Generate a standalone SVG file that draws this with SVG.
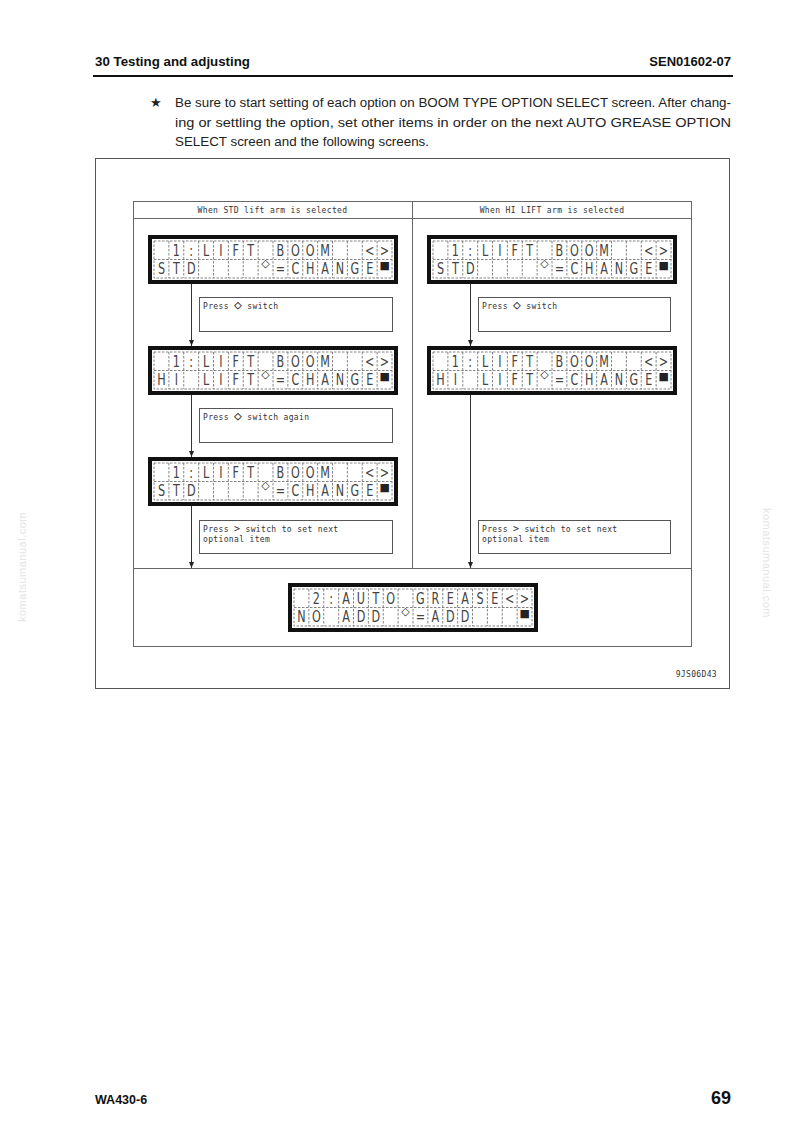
<svg xmlns="http://www.w3.org/2000/svg" width="794" height="1124" viewBox="0 0 794 1124">
<style>
.hd{font-family:"Liberation Sans",Arial,sans-serif;font-weight:bold;fill:#111}
.bt{font-family:"Liberation Sans",Arial,sans-serif;font-size:12.5px;fill:#222}
.wm{font-family:"Liberation Sans",Arial,sans-serif;font-size:11px;fill:#e4e4e4;letter-spacing:0.5px}
.frame{fill:none;stroke:#555;stroke-width:1}
.tb{fill:none;stroke:#666;stroke-width:1}
.box{fill:#fff;stroke:#555;stroke-width:1}
.lbl{font-family:"DejaVu Sans Mono",monospace;font-size:8px;fill:#333;letter-spacing:0.35px}
.lcdo{fill:#fff;stroke:#111;stroke-width:4}
.grid{fill:none;stroke:#666;stroke-width:0.8;stroke-dasharray:2.5 1.5}
.ch{font-family:"DejaVu Sans",sans-serif;font-weight:normal;font-size:16px;fill:#444;text-anchor:middle}
.sym{font-family:"DejaVu Sans",sans-serif;font-size:11px;fill:#222;text-anchor:middle}
.con{fill:none;stroke:#333;stroke-width:1}
</style>
<defs>
<marker id="ah" markerUnits="userSpaceOnUse" markerWidth="6" markerHeight="6" refX="6" refY="2.5" orient="auto">
<path d="M0,0 L6,2.5 L0,5 z" fill="#222"/>
</marker>
<g id="lcdbase">
<rect class="lcdo" x="2" y="2" width="246" height="45"/>
<rect class="grid" x="6" y="6" width="238" height="37"/>
<path class="grid" d="M6,24.5H244 M20.875,6V43 M35.75,6V43 M50.625,6V43 M65.5,6V43 M80.375,6V43 M95.25,6V43 M110.125,6V43 M125,6V43 M139.875,6V43 M154.75,6V43 M169.625,6V43 M184.5,6V43 M199.375,6V43 M214.25,6V43 M229.125,6V43"/>
<text class="sym" x="117.6" y="32">◇</text>
<text class="sym" x="236.6" y="34">■</text>
</g>
<text id="r1boom" class="ch" transform="scale(0.7 1)" x="40.45 61.70 82.95 104.20 125.45 146.70 189.20 210.45 231.70 252.95 316.70 337.95" y="21">1:LIFTBOOM&lt;&gt;</text>
<text id="r2std" class="ch" transform="scale(0.7 1)" x="19.20 40.45 61.70 189.20 210.45 231.70 252.95 274.20 295.45 316.70" y="39.5">STD=CHANGE</text>
<text id="r2hi" class="ch" transform="scale(0.7 1)" x="19.20 40.45 82.95 104.20 125.45 146.70 189.20 210.45 231.70 252.95 274.20 295.45 316.70" y="39.5">HILIFT=CHANGE</text>
</defs>

<!-- page header -->
<text class="hd" x="95" y="66" font-size="13" textLength="155" lengthAdjust="spacingAndGlyphs">30 Testing and adjusting</text>
<text class="hd" x="731" y="66" font-size="13" text-anchor="end">SEN01602-07</text>
<line x1="93" y1="76" x2="733" y2="76" stroke="#111" stroke-width="2"/>

<!-- note -->
<text class="bt" x="150" y="107" font-size="12">★</text>
<text class="bt" x="175" y="107" textLength="556" lengthAdjust="spacingAndGlyphs">Be sure to start setting of each option on BOOM TYPE OPTION SELECT screen. After chang-</text>
<text class="bt" x="175" y="127" textLength="556" lengthAdjust="spacingAndGlyphs">ing or settling the option, set other items in order on the next AUTO GREASE OPTION</text>
<text class="bt" x="175" y="146" textLength="254" lengthAdjust="spacingAndGlyphs">SELECT screen and the following screens.</text>

<!-- outer frame -->
<rect class="frame" x="95.5" y="158.5" width="634" height="530"/>

<!-- table -->
<g id="table">
<rect class="tb" x="133.5" y="201.5" width="558" height="445"/>
<line class="tb" x1="133.5" y1="218.5" x2="691.5" y2="218.5"/>
<line class="tb" x1="412.5" y1="201.5" x2="412.5" y2="568.5"/>
<line class="tb" x1="133.5" y1="568.5" x2="691.5" y2="568.5"/>
<text class="lbl" x="272.5" y="213" text-anchor="middle">When STD lift arm is selected</text>
<text class="lbl" x="552" y="213" text-anchor="middle">When HI LIFT arm is selected</text>
</g>

<!-- connectors -->
<g id="connectors">
<line class="con" x1="191.5" y1="284" x2="191.5" y2="346" marker-end="url(#ah)"/>
<line class="con" x1="191.5" y1="395" x2="191.5" y2="457" marker-end="url(#ah)"/>
<line class="con" x1="191.5" y1="506" x2="191.5" y2="568" marker-end="url(#ah)"/>
<line class="con" x1="470.5" y1="284" x2="470.5" y2="346" marker-end="url(#ah)"/>
<line class="con" x1="470.5" y1="395" x2="470.5" y2="568" marker-end="url(#ah)"/>
</g>

<!-- LCD screens -->
<g id="lcd-std-1" transform="translate(148,235)"><use href="#lcdbase"/><use href="#r1boom"/><use href="#r2std"/></g>
<g id="lcd-hi-1" transform="translate(427,235)"><use href="#lcdbase"/><use href="#r1boom"/><use href="#r2std"/></g>
<g id="lcd-std-2" transform="translate(148,346)"><use href="#lcdbase"/><use href="#r1boom"/><use href="#r2hi"/></g>
<g id="lcd-hi-2" transform="translate(427,346)"><use href="#lcdbase"/><use href="#r1boom"/><use href="#r2hi"/></g>
<g id="lcd-std-3" transform="translate(148,457)"><use href="#lcdbase"/><use href="#r1boom"/><use href="#r2std"/></g>
<g id="lcd-grease" transform="translate(288,583)">
<use href="#lcdbase"/>
<text class="ch" transform="scale(0.7 1)" x="40.45 61.70 82.95 104.20 125.45 146.70 189.20 210.45 231.70 252.95 274.20 295.45 316.70 337.95" y="21">2:AUTOGREASE&lt;&gt;</text>
<text class="ch" transform="scale(0.7 1)" x="19.20 40.45 82.95 104.20 125.45 189.20 210.45 231.70 252.95" y="39.5">NOADD=ADD</text>
</g>

<!-- instruction boxes -->
<g id="box-std-1"><rect class="box" x="199.5" y="297.5" width="193" height="34"/><text class="lbl" x="203" y="309">Press <tspan font-size="13">◇</tspan> switch</text></g>
<g id="box-hi-1"><rect class="box" x="478.5" y="297.5" width="192" height="34"/><text class="lbl" x="482" y="309">Press <tspan font-size="13">◇</tspan> switch</text></g>
<g id="box-std-2"><rect class="box" x="199.5" y="408.5" width="193" height="34"/><text class="lbl" x="203" y="420">Press <tspan font-size="13">◇</tspan> switch again</text></g>
<g id="box-std-3"><rect class="box" x="199.5" y="520.5" width="193" height="33"/><text class="lbl" x="203" y="532">Press <tspan font-size="10">&gt;</tspan> switch to set next</text><text class="lbl" x="203" y="542">optional item</text></g>
<g id="box-hi-3"><rect class="box" x="478.5" y="520.5" width="192" height="33"/><text class="lbl" x="482" y="532">Press <tspan font-size="10">&gt;</tspan> switch to set next</text><text class="lbl" x="482" y="542">optional item</text></g>

<text class="lbl" x="717" y="677" text-anchor="end" font-size="8.5" letter-spacing="0.8">9JS06D43</text>

<!-- watermarks -->
<text class="wm" transform="translate(26,567) rotate(-90)" text-anchor="middle">komatsumanual.com</text>
<text class="wm" transform="translate(763,563) rotate(90)" text-anchor="middle">komatsumanual.com</text>

<!-- footer -->
<text class="hd" x="95" y="1104" font-size="12.5">WA430-6</text>
<text class="hd" x="731" y="1104" font-size="18" text-anchor="end">69</text>
</svg>
